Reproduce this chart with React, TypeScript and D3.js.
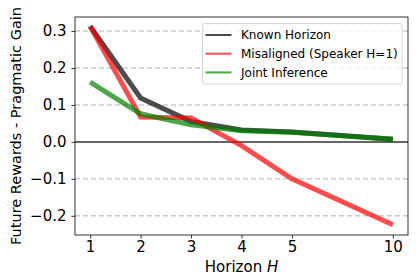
import { useEffect, useRef } from 'react'
import * as d3 from 'd3'

const W = 419
const H = 280
const MARGIN = { top: 17, right: 11, bottom: 45, left: 75 }

// horizon labels and where they sit on the x axis (10 is drawn two steps after 5)
const HORIZONS = ['1', '2', '3', '4', '5', '10']
const X_POS = [1, 2, 3, 4, 5, 7]

const KNOWN = [0.313, 0.119, 0.055, 0.032, 0.027, 0.007]
const MISALIGNED = [0.313, 0.067, 0.065, -0.01, -0.1, -0.224]
const JOINT = [0.162, 0.076, 0.046, 0.03, 0.026, 0.007]

const Y_TICKS = [-0.2, -0.1, 0.0, 0.1, 0.2, 0.3]

const SERIES = [
  { label: 'Known Horizon', values: KNOWN, color: 'rgba(0,0,0,0.7)' },
  { label: 'Misaligned (Speaker H=1)', values: MISALIGNED, color: 'rgba(255,0,0,0.7)' },
  { label: 'Joint Inference', values: JOINT, color: 'rgba(0,128,0,0.7)' },
]

const FONT = "'DejaVu Sans', sans-serif"

export default function App() {
  const svgRef = useRef<SVGSVGElement>(null)

  useEffect(() => {
    const svg = d3.select(svgRef.current!)
    svg.selectAll('*').remove()
    const w = W - MARGIN.left - MARGIN.right
    const h = H - MARGIN.top - MARGIN.bottom

    const x = d3.scaleLinear().domain([0.7, 7.3]).range([0, w])
    const y = d3.scaleLinear().domain([-0.252, 0.338]).range([h, 0])

    const g = svg.append('g').attr('transform', `translate(${MARGIN.left},${MARGIN.top})`)

    // grid
    g.selectAll('.grid')
      .data(Y_TICKS.filter((t) => t !== 0))
      .join('line')
      .attr('x1', 0).attr('x2', w)
      .attr('y1', (d) => y(d)).attr('y2', (d) => y(d))
      .attr('stroke', '#cccccc')
      .attr('stroke-width', 1.5)
      .attr('stroke-dasharray', '5,3')

    // zero line
    g.append('line')
      .attr('x1', 0).attr('x2', w)
      .attr('y1', y(0)).attr('y2', y(0))
      .attr('stroke', '#333')
      .attr('stroke-width', 1.5)

    const line = d3
      .line<number>()
      .x((_, i) => x(X_POS[i]))
      .y((d) => y(d))

    SERIES.forEach((s) => {
      g.append('path')
        .datum(s.values)
        .attr('d', line)
        .attr('fill', 'none')
        .attr('stroke', s.color)
        .attr('stroke-width', 5)
    })

    // axes
    const xAxis = d3.axisBottom(x).tickValues(X_POS).tickFormat((_, i) => HORIZONS[i]).tickSize(3.5).tickPadding(3)
    const yAxis = d3.axisLeft(y).tickValues(Y_TICKS).tickFormat((d) => {
      const v = d as number
      return (v < 0 ? '\u2212' : '') + Math.abs(v).toFixed(1)
    }).tickSize(3.5).tickPadding(5)

    g.append('g')
      .attr('transform', `translate(0,${h})`)
      .call(xAxis)
      .call((a) => a.select('.domain').remove())
      .call((a) => a.selectAll('.tick line').attr('stroke', '#000').attr('stroke-width', 0.8))
      .call((a) => a.selectAll('.tick text').attr('font-size', '15px').attr('font-family', FONT).attr('fill', '#000'))

    g.append('g')
      .call(yAxis)
      .call((a) => a.select('.domain').remove())
      .call((a) => a.selectAll('.tick line').attr('stroke', '#000').attr('stroke-width', 0.8))
      .call((a) => a.selectAll('.tick text').attr('font-size', '15px').attr('font-family', FONT).attr('fill', '#000'))

    g.append('rect')
      .attr('width', w).attr('height', h)
      .attr('fill', 'none')
      .attr('stroke', '#000')
      .attr('stroke-width', 0.8)

    // axis labels
    const xl = svg.append('text')
      .attr('x', MARGIN.left + w / 2)
      .attr('y', 272)
      .attr('text-anchor', 'middle')
      .attr('font-size', '15px')
      .attr('font-family', FONT)
    xl.append('tspan').text('Horizon ')
    xl.append('tspan').attr('font-style', 'italic').text('H')

    svg.append('text')
      .attr('transform', `translate(21,${MARGIN.top + h / 2}) rotate(-90)`)
      .attr('text-anchor', 'middle')
      .attr('font-size', '14.5px')
      .attr('font-family', FONT)
      .text('Future Rewards - Pragmatic Gain')

    // legend
    const lg = svg.append('g').attr('transform', 'translate(202.5,23.5)')
    lg.append('rect')
      .attr('width', 199.5).attr('height', 60.5)
      .attr('rx', 2)
      .attr('fill', 'rgba(255,255,255,0.8)')
      .attr('stroke', '#d6d6d6')
    SERIES.forEach((s, i) => {
      const yy = 11.5 + i * 18.7
      lg.append('line')
        .attr('x1', 3).attr('x2', 29)
        .attr('y1', yy).attr('y2', yy)
        .attr('stroke', s.color)
        .attr('stroke-width', 2)
      lg.append('text')
        .attr('x', 38.5).attr('y', yy)
        .attr('dy', '0.35em')
        .attr('font-size', '12px')
        .attr('font-family', FONT)
        .text(s.label)
    })
  }, [])

  return (
    <div style={{ position: 'fixed', left: 0, top: 0, background: '#fff' }}>
      <svg ref={svgRef} width={W} height={H} />
    </div>
  )
}
